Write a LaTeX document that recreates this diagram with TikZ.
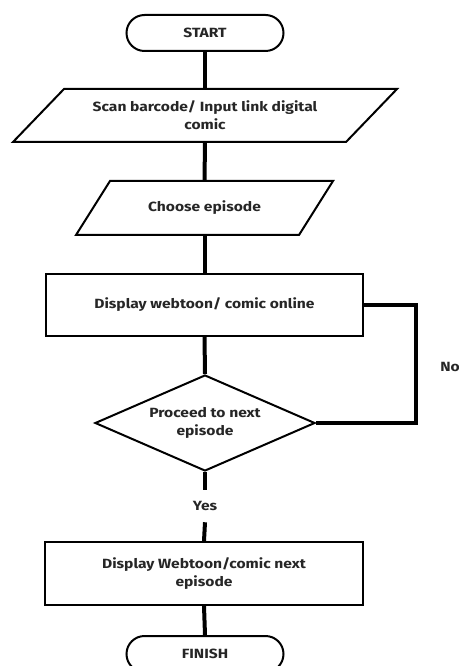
\documentclass[tikz,border=0pt]{standalone}
\usepackage{fontspec}
\setmainfont{Fira Sans}[FakeStretch=1.17]
\usetikzlibrary{shapes.misc,shapes.geometric}
\begin{document}
\begin{tikzpicture}[x=0.75pt,y=-0.75pt,
  font=\bfseries\fontsize{10}{13.5}\selectfont,
  every node/.style={text=black!85, align=center, inner sep=0pt},
  border/.style={draw=black, line width=1.5pt},
  term/.style={border, rounded rectangle, minimum width=117.75pt, minimum height=27pt},
  procbox/.style={border, rectangle, minimum width=237.75pt, minimum height=46.5pt},
  dec/.style={border, diamond, minimum width=165pt, minimum height=72pt, aspect=2.3},
  conn/.style={draw=black, line width=3pt},
  loopline/.style={draw=black, line width=2.6pt}
]
\useasboundingbox (0,0) rectangle (459,666);
% start
\node[term] (start) at (205,33) {START};
% parallelogram 1
\draw[border, line join=miter] (64,89) -- (397,89) -- (346,142) -- (13,142) -- cycle;
\node[minimum height=39.75pt, minimum width=10pt] (scan) at (205,115.5) {Scan barcode/ Input link digital\\comic};
% parallelogram 2
\draw[border, line join=miter] (110,181) -- (333,181) -- (299,235) -- (76,235) -- cycle;
\node[minimum height=40.5pt, minimum width=10pt] (choose) at (204.5,208) {Choose episode};
% process 1
\node[procbox] (disp) at (204.5,305) {Display webtoon/ comic online};
% decision
\node[dec] (dec) at (205,423) {Proceed to next\\episode};
% yes label
\node[minimum height=24pt] (yes) at (205,506) {Yes};
% process 2
\node[procbox, minimum width=238.5pt, minimum height=47.25pt] (next) at (204,573.5) {Display Webtoon/comic next\\episode};
% finish
\node[term] (finish) at (205,654) {FINISH};
% no label
\node[anchor=west] (no) at (440,367) {No};
\coordinate (nc) at (416,305);
% connectors
\draw[conn] (start.south) -- (scan.north);
\draw[conn] (scan.south) -- (choose.north);
\draw[conn] (choose.south) -- (disp.north);
\draw[conn] (disp.south) -- (dec.north);
\draw[conn] (dec.south) -- (yes.north);
\draw[conn] (yes.south) -- (next.north);
\draw[conn] (next.south) -- (finish.north);
\draw[loopline, line join=miter] (disp.east) -- (nc) |- (dec.east);
\end{tikzpicture}
\end{document}
